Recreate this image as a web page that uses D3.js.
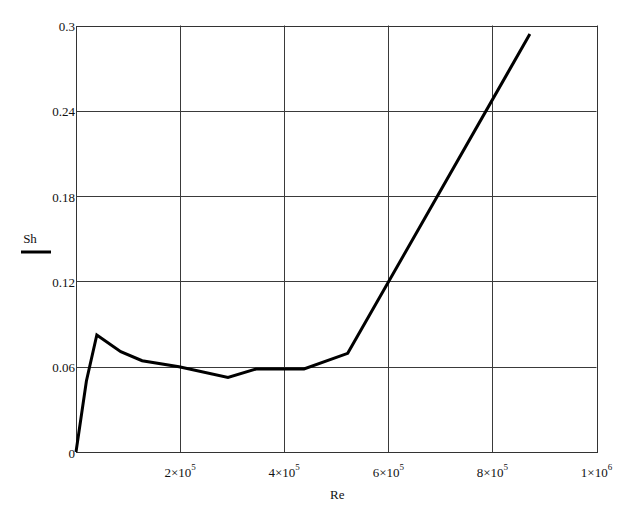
<!DOCTYPE html>
<html><head><meta charset="utf-8">
<script src="https://cdn.jsdelivr.net/npm/d3@7"></script>
<style>body{margin:0;background:#fff}svg{display:block}</style>
</head><body>
<svg id="c" width="628" height="511"></svg>
<script>
const reValues = [0, 20000, 40000, 86000, 127000, 198000, 292000, 346000, 438000, 522000, 872000];
const shValues = [0, 0.050, 0.0823, 0.0706, 0.0642, 0.0600, 0.0525, 0.0584, 0.0584, 0.0694, 0.294];
const xTicks = [200000, 400000, 600000, 800000, 1000000];
const xTickLabels = [["2","5"],["4","5"],["6","5"],["8","5"],["1","6"]];
const yTicks = [0, 0.06, 0.12, 0.18, 0.24, 0.3];
const yTickLabels = ["0", "0.06", "0.12", "0.18", "0.24", "0.3"];

const svg = d3.select("#c");
const L = 76, R = 596.5, T = 25.5, B = 452;
const x = d3.scaleLinear().domain([0, 1000000]).range([L, R]);
const y = d3.scaleLinear().domain([0, 0.3]).range([B, T]);
const font = "'Liberation Serif','Times New Roman',serif";

// grid
svg.append("g").selectAll("line").data(xTicks).join("line")
  .attr("x1", d => Math.round(x(d)) + 0.5).attr("x2", d => Math.round(x(d)) + 0.5)
  .attr("y1", T).attr("y2", B).attr("stroke", "#3a3a3a").attr("stroke-width", 1);
svg.append("g").selectAll("line").data(yTicks).join("line")
  .attr("y1", d => Math.round(y(d)) + 0.5).attr("y2", d => Math.round(y(d)) + 0.5)
  .attr("x1", L).attr("x2", R).attr("stroke", "#3a3a3a").attr("stroke-width", 1);
svg.append("rect").attr("x", L + 0.5).attr("y", Math.round(T) + 0.5)
  .attr("width", Math.round(R) - L).attr("height", Math.round(B) - Math.round(T))
  .attr("fill", "none").attr("stroke", "#333").attr("stroke-width", 1);

// y labels
svg.append("g").selectAll("text").data(yTicks).join("text")
  .attr("x", 75).attr("y", d => y(d) + 5.5)
  .attr("text-anchor", "end").attr("font-family", font).attr("font-size", 13)
  .attr("fill", "#111").text((d, i) => yTickLabels[i]);

// x labels
const xl = svg.append("g").selectAll("text").data(xTicks).join("text")
  .attr("x", d => x(d)).attr("y", 476.5)
  .attr("text-anchor", "middle").attr("font-family", font).attr("font-size", 13).attr("fill", "#111");
xl.append("tspan").text((d, i) => xTickLabels[i][0] + "\u00d710");
xl.append("tspan").attr("dy", -7).attr("font-size", 9).text((d, i) => xTickLabels[i][1]);

// axis titles
svg.append("text").attr("x", (L + R) / 2 + 1).attr("y", 499).attr("text-anchor", "middle")
  .attr("font-family", font).attr("font-size", 13).attr("fill", "#111").text("Re");
svg.append("text").attr("x", 30).attr("y", 243).attr("text-anchor", "middle")
  .attr("font-family", font).attr("font-size", 13).attr("fill", "#111").text("Sh");
svg.append("line").attr("x1", 21).attr("x2", 51).attr("y1", 252).attr("y2", 252)
  .attr("stroke", "#000").attr("stroke-width", 3);

// data line
const line = d3.line().x((d, i) => x(reValues[i])).y(d => y(d));
svg.append("path").datum(shValues).attr("d", line).attr("fill", "none")
  .attr("stroke", "#000").attr("stroke-width", 3).attr("stroke-linejoin", "miter");
</script>
</body></html>
